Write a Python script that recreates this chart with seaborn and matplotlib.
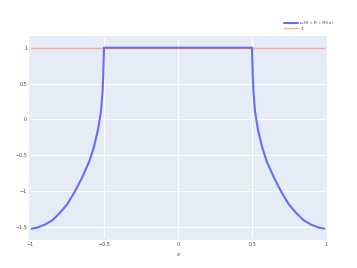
import matplotlib
matplotlib.use("Agg")
import matplotlib.pyplot as plt
import seaborn as sns
import pandas as pd

# values
x_vals = [-1.0, -0.95, -0.9, -0.85, -0.8, -0.75, -0.7, -0.65, -0.6, -0.57, -0.54, -0.52, -0.51, -0.505, -0.5,
          0.0,
          0.5, 0.505, 0.51, 0.52, 0.54, 0.57, 0.6, 0.65, 0.7, 0.75, 0.8, 0.85, 0.9, 0.95, 1.0]
y_vals = [-1.53, -1.51, -1.47, -1.41, -1.31, -1.19, -1.02, -0.82, -0.59, -0.40, -0.14, 0.12, 0.38, 0.62, 1.0,
          1.0,
          1.0, 0.62, 0.38, 0.12, -0.14, -0.40, -0.59, -0.82, -1.02, -1.19, -1.31, -1.41, -1.47, -1.51, -1.53]
const_x = [-1.0, 1.0]
const_y = [1.0, 1.0]
x_ticks = [-1, -0.5, 0, 0.5, 1]
x_tick_labels = ["−1", "−0.5", "0", "0.5", "1"]
y_ticks = [-1.5, -1, -0.5, 0, 0.5, 1]
y_tick_labels = ["−1.5", "−1", "−0.5", "0", "0.5", "1"]

curve = pd.DataFrame({"x": x_vals, "y": y_vals})
const = pd.DataFrame({"x": const_x, "y": const_y})

sns.set_theme(style="darkgrid", rc={
    "axes.facecolor": "#E5ECF6",
    "grid.color": "white",
    "grid.linewidth": 0.8,
    "axes.edgecolor": "#E5ECF6",
})

fig = plt.figure(figsize=(3.57, 2.68), dpi=100)
ax = fig.add_axes([30 / 357, 1 - 239 / 268, 296 / 357, 202 / 268])

sns.lineplot(data=curve, x="x", y="y", ax=ax, color="#636EFA", linewidth=1.5,
             label="ω(R ∘ R ∘ R)(x)", sort=False, estimator=None)
sns.lineplot(data=const, x="x", y="y", ax=ax, color="#EF553B", alpha=0.5, linewidth=1.0,
             label="1", estimator=None)

ax.set_xlim(-1, 1)
ax.set_ylim(-1.67, 1.15)
ax.set_xticks(x_ticks)
ax.set_xticklabels(x_tick_labels)
ax.set_yticks(y_ticks)
ax.set_yticklabels(y_tick_labels)
ax.tick_params(axis="both", labelsize=3.5, colors="#444444", length=0, pad=2)
ax.set_xlabel("x", fontsize=3.8, color="#444444", labelpad=4, style="italic")
ax.set_ylabel("")

leg = fig.legend(*ax.get_legend_handles_labels(), loc="upper left",
                 bbox_to_anchor=(284 / 357, 1 - 21 / 268), frameon=False, fontsize=3.2,
                 handlelength=3.2, handletextpad=0.5, borderaxespad=0, borderpad=0,
                 labelspacing=0.35)
ax.get_legend().remove()
for t in leg.get_texts():
    t.set_color("#444444")

fig.savefig("out.png", dpi=100)
